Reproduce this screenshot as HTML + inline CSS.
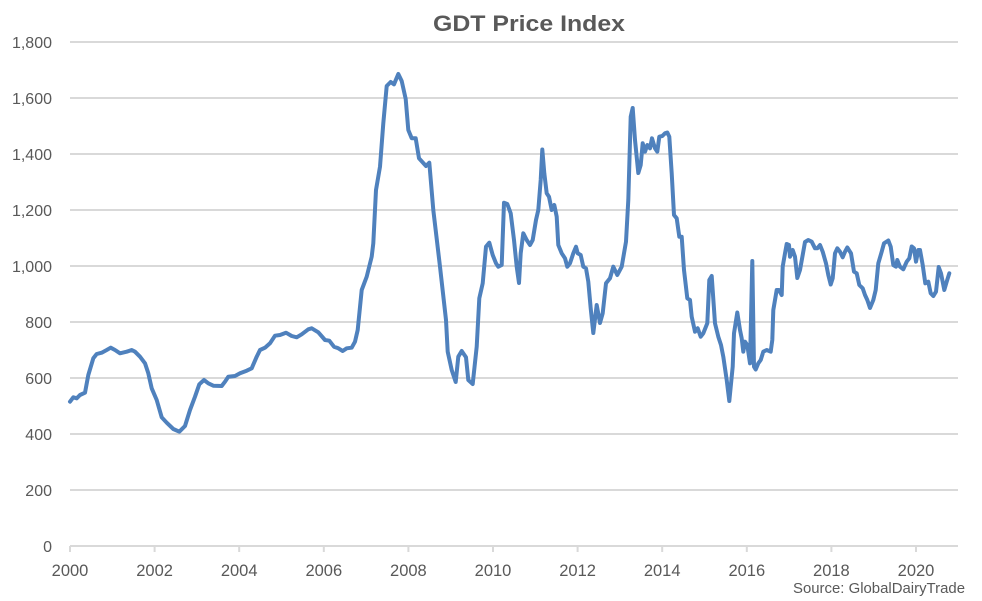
<!DOCTYPE html>
<html>
<head>
<meta charset="utf-8">
<style>
  html, body { margin: 0; padding: 0; background: #ffffff; }
  svg { display: block; }
  text { font-family: "Liberation Sans", "DejaVu Sans", sans-serif; fill: #595959; }
</style>
</head>
<body>
<svg width="982" height="601" viewBox="0 0 982 601" xmlns="http://www.w3.org/2000/svg">
  <rect x="0" y="0" width="982" height="601" fill="#ffffff"/>
  <!-- title -->
  <text x="529" y="31" text-anchor="middle" font-size="22" font-weight="bold" textLength="192" lengthAdjust="spacingAndGlyphs">GDT Price Index</text>

  <!-- gridlines -->
  <g stroke="#d9d9d9" stroke-width="2">
    <line x1="70" y1="42" x2="958" y2="42"/>
    <line x1="70" y1="98" x2="958" y2="98"/>
    <line x1="70" y1="154" x2="958" y2="154"/>
    <line x1="70" y1="210" x2="958" y2="210"/>
    <line x1="70" y1="266" x2="958" y2="266"/>
    <line x1="70" y1="322" x2="958" y2="322"/>
    <line x1="70" y1="378" x2="958" y2="378"/>
    <line x1="70" y1="434" x2="958" y2="434"/>
    <line x1="70" y1="490" x2="958" y2="490"/>
    <line x1="70" y1="546" x2="958" y2="546"/>
  </g>
  <!-- ticks -->
  <g stroke="#d9d9d9" stroke-width="2">
    <line x1="70" y1="546" x2="70" y2="552"/>
    <line x1="154.6" y1="546" x2="154.6" y2="552"/>
    <line x1="239.2" y1="546" x2="239.2" y2="552"/>
    <line x1="323.8" y1="546" x2="323.8" y2="552"/>
    <line x1="408.4" y1="546" x2="408.4" y2="552"/>
    <line x1="493" y1="546" x2="493" y2="552"/>
    <line x1="577.6" y1="546" x2="577.6" y2="552"/>
    <line x1="662.2" y1="546" x2="662.2" y2="552"/>
    <line x1="746.8" y1="546" x2="746.8" y2="552"/>
    <line x1="831.4" y1="546" x2="831.4" y2="552"/>
    <line x1="916" y1="546" x2="916" y2="552"/>
  </g>

  <!-- y labels -->
  <g font-size="16" text-anchor="end">
    <text x="52" y="48">1,800</text>
    <text x="52" y="104">1,600</text>
    <text x="52" y="160">1,400</text>
    <text x="52" y="216">1,200</text>
    <text x="52" y="272">1,000</text>
    <text x="52" y="328">800</text>
    <text x="52" y="384">600</text>
    <text x="52" y="440">400</text>
    <text x="52" y="496">200</text>
    <text x="52" y="552">0</text>
  </g>

  <!-- x labels -->
  <g font-size="16.5" text-anchor="middle">
    <text x="70" y="576">2000</text>
    <text x="154.6" y="576">2002</text>
    <text x="239.2" y="576">2004</text>
    <text x="323.8" y="576">2006</text>
    <text x="408.4" y="576">2008</text>
    <text x="493" y="576">2010</text>
    <text x="577.6" y="576">2012</text>
    <text x="662.2" y="576">2014</text>
    <text x="746.8" y="576">2016</text>
    <text x="831.4" y="576">2018</text>
    <text x="916" y="576">2020</text>
  </g>

  <text x="793" y="593" font-size="14.5" textLength="172" lengthAdjust="spacingAndGlyphs">Source: GlobalDairyTrade</text>

  <!-- series -->
  <polyline fill="none" stroke="#4f81bd" stroke-width="4" stroke-linejoin="round" stroke-linecap="round"
    points="70,401.7 73.3,397.3 76.7,398.3 80,395 85,392.7 88.3,375 93.3,358.3 96.7,354 101.7,352.7 106.7,350 110.7,347.7 115,350 120,353.3 126.7,351.7 131.7,350 135,351.7 140,356.7 145,363.3 148.3,373.3 151.7,388.3 156.7,400 161.7,417.3 166.7,422.7 173.3,429 179.3,431.7 185,426 190,410 195,396.7 199.3,384.3 204,380 208.3,383.3 213.3,385.7 221.7,386 225,381.7 228.3,376.7 235,376 240,373.3 246.7,370.7 251.7,368.3 256.7,356.7 260,350 265,347.7 270,343.3 275,335.7 280,335 286,332.7 291.7,336 296.7,337.3 301.7,334.3 308.3,329.3 311.7,328.3 318.3,332.3 325,340 329.3,340.7 334,346.7 338.3,348.3 342.7,351 346.7,348.3 351.7,347.7 355,341.7 357.7,330 361.7,290 366.7,276.7 371.7,256.7 373.3,243.3 376,190 380,166.7 383.3,123.3 386.7,86 390.7,82 394,84.3 398.3,74 401.7,81 405.7,99 408.3,130 411.7,138.3 415.7,138.3 419,158.3 426,166 429.3,162.7 433.3,210 440,266.7 446,320 447.7,351.7 451.7,370 455.7,382 458.3,356.7 461.7,351 466,357.3 468.3,380 472.7,384 476.7,346.7 479.3,298.3 482.7,283.3 486,246.7 489.3,242.7 492.7,255 496,263.3 498.3,266.7 501.7,265 504,202.7 507.3,204 510.7,213.3 514,240 516.7,266.7 519,283 520.7,253.3 523.3,233.3 526.7,240 530,245 532.7,240 536,220 538.3,210 540.7,180 542.3,149.5 544.3,173.3 546.7,193.3 549,196.7 551.7,210 554.3,205 556.7,216.7 558.3,245 561.7,253.3 565,258.3 567.3,266.7 570,263.3 573.3,253.3 576,246.7 577.7,253.3 580.7,255 583.3,266.7 586,268.3 588.3,281.7 590.7,308.3 593.3,333 596.7,305 600,323 602.7,313.3 606,283.3 610,278.3 613.3,266.7 617.3,275 621.7,266.7 626,241.7 628.3,200 630.7,116.7 632.7,108 635,140 638.3,173 640.7,165 642.7,143.3 645,151.7 647.3,145 650,148.3 652,138.3 655,148.3 657.3,151.7 659.3,136.7 662.3,136 665,133.3 667.3,132.5 669.3,136.7 671.7,173.3 674,215 676.7,218.3 679.3,236.7 681.7,236.7 684,270 687.3,298.3 690,300 691.7,316.7 695,331.7 697.7,328.3 700.7,336.7 703.3,333.3 707.3,323.3 709.3,280 711.7,276 715,323.3 718.3,336.7 721,345 723.3,356.7 726.7,380 729.3,401 732.7,366.7 734,333.3 737.3,312.5 740,330 741.7,338.3 743.3,351.7 745,341.7 747.3,345 750,363.3 752.3,261 754,366.7 755.7,369.5 758.3,363.3 760.7,360 763.3,351.7 766.7,350 770.7,351.7 772.3,340 773.3,310 776.7,290 779,290 781.7,295 782.7,266.7 785,253.3 786.7,244 789,245 790,256.7 792.7,250 795,256.7 797.3,278 800,270 802.7,255 805,242 808.3,240 811.7,241.7 815,248.3 817.3,248.3 820,245 822.7,251.7 826,263.3 828.3,275 830.7,284.5 832.7,278.3 835,253.3 837.3,248.3 840,251.7 842.7,257.3 845,251.7 847.3,247.5 851,253.3 854,271.7 856.7,273.3 859.3,285 862.7,288.3 865,295 867.3,300 870,308 873.3,300 875.7,290 878.3,263.3 881.7,251.7 884,243.3 888.3,240.5 890.7,246.7 893.3,265 896,266.7 897.3,260 900,266.7 903.3,269.3 906.7,261.7 909.3,258.3 911.7,246.5 914,248.3 916,261.7 918.3,250 920,250 922.7,265 925.3,283.3 928.3,281.7 930.7,293.3 933.3,296 936,291.7 938.7,267 941,273.3 944.3,290 946.7,281.7 949.3,273.3"/>
</svg>
</body>
</html>
